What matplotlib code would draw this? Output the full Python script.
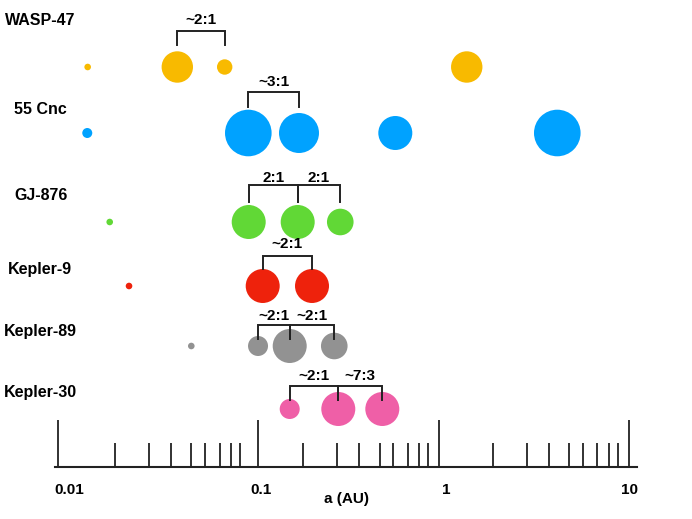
import numpy as np
import matplotlib
matplotlib.use("Agg")
import matplotlib.pyplot as plt

# ---------------- data ----------------
systems = ['WASP-47', '55 Cnc', 'GJ-876', 'Kepler-9', 'Kepler-89', 'Kepler-30']
colors = ['#F8BA00', '#00A2FF', '#61D836', '#EE220C', '#929292', '#EF5FA7']

# innermost reference dot (star) per system: semimajor axis (AU) and dot radius (px)
star_a = [0.01437, 0.01430, 0.01876, 0.02364, 0.0500, None]
star_r = [3.3, 5.0, 3.3, 3.3, 3.3, None]

# planets: semimajor axis (AU) and drawn radius (px)
wasp47_a = [0.04297, 0.07437, 1.4306]
wasp47_r = [15.7, 7.7, 15.7]
cnc55_a = [0.09465, 0.18891, 0.6163, 4.396]
cnc55_r = [23.3, 20.0, 17.0, 23.3]
gj876_a = [0.09487, 0.18516, 0.3131]
gj876_r = [17.0, 17.0, 13.3]
kep9_a = [0.10801, 0.22326]
kep9_r = [17.0, 17.0]
kep89_a = [0.1005, 0.16372, 0.29048]
kep89_r = [10.0, 17.0, 13.3]
kep30_a = [0.16372, 0.30512, 0.51863]
kep30_r = [10.0, 17.0, 17.0]

planet_a = [wasp47_a, cnc55_a, gj876_a, kep9_a, kep89_a, kep30_a]
planet_r = [wasp47_r, cnc55_r, gj876_r, kep9_r, kep89_r, kep30_r]

# resonant pairs (planet index i, planet index j, label)
resonances = [
    [(0, 1, '~2:1')],
    [(0, 1, '~3:1')],
    [(0, 1, '2:1'), (1, 2, '2:1')],
    [(0, 1, '~2:1')],
    [(0, 1, '~2:1'), (1, 2, '~2:1')],
    [(0, 1, '~2:1'), (1, 2, '~7:3')],
]

major_ticks = [0.01, 0.1, 1, 10]
major_labels = ['0.01', '0.1', '1', '10']
minor_ticks = [k * 10.0 ** d for d in (-2, -1, 0) for k in range(2, 10)]

# ---------------- layout ----------------
W, H = 692, 519
row_y = [67, 133, 222, 286, 346, 409]
bracket_top = [30.7, 92.3, 185.3, 256, 325, 386]
bracket_bot = [45, 107, 201.7, 269, 339.3, 400]
ratio_y = [20, 81.7, 178.3, 244, 315.7, 376]
name_x = [5, 14.3, 14, 8.3, 4, 4]
name_y = [20.7, 109, 195, 269.3, 331.3, 392.7]
axis_y = 466.7
label_y = 490
label_dx = [12, 3.5, 7, 1]

# hand-drawn log axis: where each 1..9 x 10^d gridline sits in the drawing (px)
scale_vals = [k * 10.0 ** d for d in (-2, -1, 0) for k in range(1, 10)] + [10.0]
scale_px = [57.7, 115, 149, 170.7, 191.3, 204.7, 219.7, 230.7, 239.7,
            257.7, 302.7, 337, 359, 379.7, 392.7, 407.7, 419, 428.3,
            439, 492.7, 526.7, 548.7, 569, 582.7, 597.3, 608.7, 617.7, 629]
KL = np.log10(np.array(scale_vals))
KP = np.array(scale_px)
SL0 = (KP[9] - KP[0]) / (KL[9] - KL[0])
SL1 = (KP[-1] - KP[-10]) / (KL[-1] - KL[-10])


def fwd(x):
    x = np.asarray(x, dtype=float)
    l = np.log10(np.clip(x, 1e-12, None))
    p = np.interp(l, KL, KP)
    p = np.where(l < KL[0], KP[0] + (l - KL[0]) * SL0, p)
    p = np.where(l > KL[-1], KP[-1] + (l - KL[-1]) * SL1, p)
    return p


def inv(p):
    p = np.asarray(p, dtype=float)
    l = np.interp(p, KP, KL)
    l = np.where(p < KP[0], KL[0] + (p - KP[0]) / SL0, l)
    l = np.where(p > KP[-1], KL[-1] + (p - KP[-1]) / SL1, l)
    return 10.0 ** l


FONT = 'Liberation Sans'
fig = plt.figure(figsize=(W / 100, H / 100), dpi=100)
ax = fig.add_axes([0, 0, 1, 1])
ax.set_xscale('function', functions=(fwd, inv))
ax.set_xlim(float(inv(0)), float(inv(W)))
ax.set_ylim(H, 0)

px2pt = 0.72
line_c = '#222222'

for k in range(len(systems)):
    y = row_y[k]
    if star_a[k] is not None:
        ax.scatter([star_a[k]], [y], s=(2 * star_r[k] * px2pt) ** 2,
                   color=colors[k], edgecolors='none', zorder=3)
    ax.scatter(planet_a[k], [y] * len(planet_a[k]),
               s=[(2 * r * px2pt) ** 2 for r in planet_r[k]],
               color=colors[k], edgecolors='none', zorder=3)
    for (i, j, lab) in resonances[k]:
        xa, xb = planet_a[k][i], planet_a[k][j]
        ax.plot([xa, xa, xb, xb],
                [bracket_bot[k], bracket_top[k], bracket_top[k], bracket_bot[k]],
                color=line_c, lw=1.4, solid_joinstyle='miter', zorder=4)
        xm = float(inv((fwd(xa) + fwd(xb)) / 2))
        ax.text(xm, ratio_y[k], lab, ha='center', va='center',
                fontsize=11, fontweight='bold', family=FONT, color='black')
    fig.text(name_x[k] / W, 1 - name_y[k] / H, systems[k], ha='left', va='center',
             fontsize=11.5, fontweight='bold', family=FONT, color='black')

# axis
for s in ['top', 'left', 'right']:
    ax.spines[s].set_visible(False)
ax.spines['bottom'].set_position(('data', axis_y))
ax.spines['bottom'].set_bounds(float(inv(55)), float(inv(636.7)))
ax.spines['bottom'].set_linewidth(1.5)
ax.spines['bottom'].set_color(line_c)
ax.set_yticks([])
ax.set_xticks(major_ticks)
ax.set_xticks(minor_ticks, minor=True)
ax.set_xticklabels([])
ax.set_xticklabels([], minor=True)
ax.tick_params(axis='x', which='major', direction='in', length=47.4 * px2pt,
               width=1.3, color=line_c)
ax.tick_params(axis='x', which='minor', direction='in', length=24 * px2pt,
               width=1.3, color=line_c)

for t, lab, dx in zip(major_ticks, major_labels, label_dx):
    xt = float(inv(fwd(t) + dx))
    ax.text(xt, label_y, lab, ha='center', va='center', fontsize=11,
            fontweight='bold', family=FONT, color='black')

fig.text(347 / W, 1 - 499 / H, 'a (AU)', ha='center', va='center', fontsize=11,
         fontweight='bold', family=FONT, color='black')

fig.savefig('out.png', dpi=100)
